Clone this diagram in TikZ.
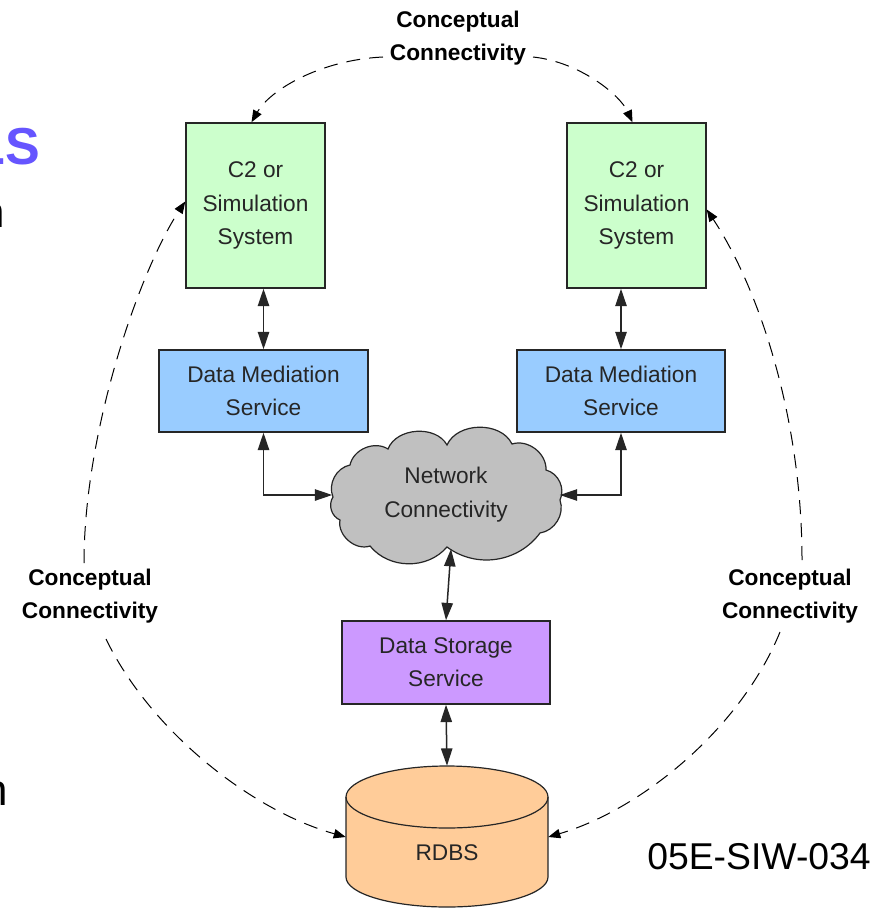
\documentclass[tikz,border=0pt]{standalone}
\usepackage{fontspec}
\setmainfont{Liberation Sans}
\usetikzlibrary{arrows.meta}
\newlength{\upx}\setlength{\upx}{0.75pt}
\definecolor{boxgreen}{HTML}{CCFFCC}
\definecolor{boxblue}{HTML}{99CCFF}
\definecolor{boxpurple}{HTML}{CC99FF}
\definecolor{cloudgray}{HTML}{C0C0C0}
\definecolor{dborange}{HTML}{FFCC99}
\definecolor{slidepurple}{HTML}{6655FF}
\begin{document}
\begin{tikzpicture}[x=0.75pt,y=0.75pt,
  box/.style={draw=black!85, line width=1.5\upx, inner sep=0pt, align=center, text=black!85,
    font=\fontsize{17}{25}\selectfont},
  lbl/.style={align=center, inner sep=0pt, font=\fontsize{17}{24.5}\selectfont\bfseries},
  link/.style={line width=1.5\upx, draw=black!85,
    {Triangle[length=13pt,width=8.5pt]}-{Triangle[length=13pt,width=8.5pt]}},
  concept/.style={line width=1\upx, dash pattern=on 14\upx off 9\upx,
    -{Triangle[length=9pt,width=7pt]}},
]
\useasboundingbox (0,0) rectangle (875,-909);
\fill[white] (0,0) rectangle (875,-909);

% slide fragments (cut off at the left edge, as in the reference)
\node[anchor=base east, inner sep=0, text=slidepurple, font=\fontsize{39}{39}\selectfont\bfseries] (frag1) at (40.5,-165) {LS};
\node[anchor=base east, inner sep=0, font=\fontsize{33}{33}\selectfont] (frag2) at (5,-228) {n};
\node[anchor=base east, inner sep=0, font=\fontsize{33}{33}\selectfont] (frag3) at (8,-805) {n};

% boxes
\node[box, fill=boxgreen, minimum width=139\upx, minimum height=165\upx] (g1) at (255.5,-205.5) {C2 or\\Simulation\\System};
\node[box, fill=boxgreen, minimum width=139\upx, minimum height=165\upx] (g2) at (636.5,-205.5) {C2 or\\Simulation\\System};
\node[box, fill=boxblue, minimum width=209\upx, minimum height=82\upx] (b1) at (263.5,-391) {Data Mediation\\Service};
\node[box, fill=boxblue, minimum width=208\upx, minimum height=82\upx] (b2) at (621,-391) {Data Mediation\\Service};
\node[box, fill=boxpurple, minimum width=208\upx, minimum height=83\upx] (p) at (446,-662.5) {Data Storage\\Service};

% cloud
\draw[fill=cloudgray, draw=black!85, line width=1.2\upx]
  (333,-497) to[bend left=50] (350,-465)
  to[bend left=55] (388,-449)
  to[bend left=65] (447,-445)
  to[bend left=65] (512,-444)
  to[bend left=55] (546,-470)
  to[bend left=50] (560,-500)
  to[bend left=50] (540,-533)
  to[bend left=45] (447,-547)
  to[bend left=50] (370,-546)
  to[bend left=60] (340,-520)
  to[bend left=50] (333,-497) -- cycle;
\node[inner sep=0, align=center, text=black!85, font=\fontsize{17}{25.5}\selectfont,
  minimum width=227\upx, minimum height=120\upx] (cloud) at (446,-495) {Network\\Connectivity};
\coordinate (cb) at (451,-549);

% database cylinder
\node[inner sep=0, minimum width=202\upx, minimum height=142\upx] (db) at (447,-837) {};
\fill[dborange] (346,-797) -- (346,-877) arc[start angle=180, end angle=360, x radius=101\upx, y radius=30\upx]
  -- (548,-797) arc[start angle=0, end angle=180, x radius=101\upx, y radius=31\upx] -- cycle;
\draw[black!85, line width=1.2\upx] (346,-797) -- (346,-877) arc[start angle=180, end angle=360, x radius=101\upx, y radius=30\upx]
  -- (548,-797) arc[start angle=0, end angle=180, x radius=101\upx, y radius=31\upx];
\draw[black!85, line width=1.2\upx] (346,-797) arc[start angle=180, end angle=360, x radius=101\upx, y radius=31\upx];
\node[inner sep=0, text=black!85, font=\fontsize{17}{25}\selectfont] (dbt) at (447,-853) {RDBS};

% solid links
\draw[link] (g1.south -| b1.north) -- (b1.north);
\draw[link] (g2.south -| b2.north) -- (b2.north);
\draw[link] (b1.south) |- (cloud.west);
\draw[link] (b2.south) |- (cloud.east);
\draw[link] (cb) -- (p.north);
\draw[link] (p.south) -- (db.north);

% conceptual labels
\node[lbl] (ctop) at (458,-38) {Conceptual\\Connectivity};
\node[lbl] (cleft) at (90,-596) {Conceptual\\Connectivity};
\node[lbl] (cright) at (790,-596) {Conceptual\\Connectivity};
\coordinate (tl) at (383,-57);
\coordinate (tr) at (533,-57);
\coordinate (ll1) at (84,-563);
\coordinate (ll2) at (106,-639);
\coordinate (rl1) at (802,-560);
\coordinate (rl2) at (780,-632);

% dashed conceptual connectors
\draw[concept] (tl) .. controls (320,-60) and (270,-90) .. ([xshift=-4\upx]g1.north);
\draw[concept] (tr) .. controls (580,-62) and (620,-95) .. ([xshift=-4\upx]g2.north);
\draw[concept] (ll1) .. controls (84,-430) and (140,-270) .. ([yshift=4\upx]g1.west);
\draw[concept] (ll2) .. controls (150,-730) and (250,-810) .. (db.west);
\draw[concept] (rl1) .. controls (802,-420) and (760,-290) .. ([yshift=-4\upx]g2.east);
\draw[concept] (rl2) .. controls (740,-730) and (640,-810) .. (db.east);

% reference number
\node[inner sep=0, font=\fontsize{28}{28}\selectfont] (ref) at (759,-857) {05E-SIW-034};
\end{tikzpicture}
\end{document}
